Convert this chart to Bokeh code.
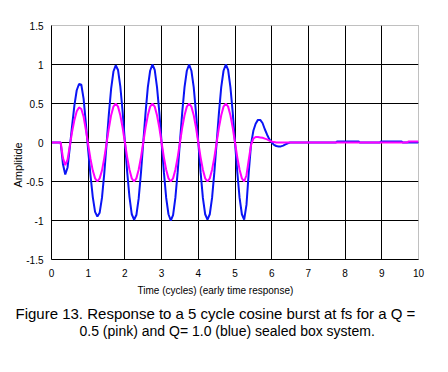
from bokeh.plotting import figure
from bokeh.models import Range1d, FixedTicker, Title
from bokeh.embed import file_html
from bokeh.resources import INLINE

# time samples (cycles) for the burst part
t_burst = [
    0.0, 0.0625, 0.125, 0.1875, 0.25, 0.3125, 0.375, 0.4375, 0.5, 0.5625, 0.625, 0.6875, 0.75, 0.8125, 0.875, 0.9375,
    1.0, 1.0625, 1.125, 1.1875, 1.25, 1.3125, 1.375, 1.4375, 1.5, 1.5625, 1.625, 1.6875, 1.75, 1.8125, 1.875, 1.9375,
    2.0, 2.0625, 2.125, 2.1875, 2.25, 2.3125, 2.375, 2.4375, 2.5, 2.5625, 2.625, 2.6875, 2.75, 2.8125, 2.875, 2.9375,
    3.0, 3.0625, 3.125, 3.1875, 3.25, 3.3125, 3.375, 3.4375, 3.5, 3.5625, 3.625, 3.6875, 3.75, 3.8125, 3.875, 3.9375,
    4.0, 4.0625, 4.125, 4.1875, 4.25, 4.3125, 4.375, 4.4375, 4.5, 4.5625, 4.625, 4.6875, 4.75, 4.8125, 4.875, 4.9375,
    5.0, 5.0625, 5.125, 5.1875, 5.25, 5.3125, 5.375, 5.4375, 5.5, 5.5625, 5.625, 5.6875, 5.75, 5.8125, 5.875, 5.9375,
    6.0, 6.0625, 6.125, 6.1875, 6.25, 6.3125, 6.375, 6.4375, 6.5,
]

# Q = 1.0 (blue)
blue_burst = [
    0, 0, 0, 0, 0, -0.28, -0.41, -0.32, -0.06, 0.22, 0.48, 0.67, 0.75, 0.74, 0.56, 0.24,
    -0.1, -0.42, -0.70, -0.89, -0.95, -0.90, -0.71, -0.40, -0.02, 0.36, 0.69, 0.91, 0.99, 0.93, 0.72, 0.40,
    0.01, -0.38, -0.70, -0.92, -0.99, -0.93, -0.72, -0.39, 0.0, 0.38, 0.71, 0.92, 1.0, 0.93, 0.71, 0.39,
    0.0, -0.38, -0.71, -0.92, -1.0, -0.93, -0.71, -0.38, 0.01, 0.39, 0.71, 0.92, 1.0, 0.92, 0.71, 0.38,
    0.0, -0.38, -0.71, -0.92, -0.99, -0.92, -0.71, -0.38, 0.0, 0.38, 0.71, 0.92, 1.0, 0.93, 0.71, 0.39,
    0.0, -0.38, -0.71, -0.92, -0.99, -0.80, -0.38, -0.02, 0.15, 0.24, 0.29, 0.29, 0.25, 0.17, 0.10, 0.04,
    0.0, -0.03, -0.045, -0.05, -0.05, -0.04, -0.025, -0.01, 0.0,
]
blue_tail_t = [7.75, 7.78, 8.37, 8.4, 8.95, 8.97, 9.54, 9.57, 10.0]
blue_tail = [0.0, 0.012, 0.012, 0.0, 0.0, 0.012, 0.012, 0.0, 0.0]

# Q = 0.5 (pink)
pink_burst = [
    0, 0, 0, 0, 0, -0.20, -0.29, -0.22, -0.04, 0.14, 0.29, 0.40, 0.45, 0.43, 0.33, 0.16,
    -0.03, -0.21, -0.36, -0.46, -0.50, -0.46, -0.36, -0.20, -0.01, 0.18, 0.35, 0.46, 0.50, 0.46, 0.35, 0.19,
    0.0, -0.19, -0.35, -0.46, -0.50, -0.46, -0.35, -0.19, 0.0, 0.19, 0.35, 0.46, 0.50, 0.46, 0.35, 0.19,
    0.0, -0.19, -0.35, -0.46, -0.50, -0.46, -0.35, -0.19, 0.0, 0.19, 0.35, 0.46, 0.50, 0.46, 0.35, 0.19,
    0.0, -0.19, -0.35, -0.46, -0.50, -0.46, -0.35, -0.19, 0.0, 0.19, 0.35, 0.46, 0.50, 0.46, 0.35, 0.19,
    0.0, -0.19, -0.35, -0.46, -0.50, -0.42, -0.22, -0.03, 0.05, 0.07, 0.07, 0.065, 0.06, 0.05, 0.04, 0.025,
    0.012, 0.005, 0.0, 0.0, 0.0, 0.0, 0.0, 0.0, 0.0,
]
pink_tail_t = [9.7, 9.72, 10.0]
pink_tail = [0.0, 0.012, 0.012]

x_ticks = [0, 1, 2, 3, 4, 5, 6, 7, 8, 9, 10]
y_ticks = [-1.5, -1, -0.5, 0, 0.5, 1, 1.5]
y_tick_labels = ["-1.5", "-1", "-0.5", "0", "0.5", "1", "1.5"]
x_grid = [1, 2, 3, 4, 5, 6, 7, 8, 9]
y_grid = [-1, -0.5, 0, 0.5, 1]

y_label = "Amplitide"
x_label = "Time (cycles)  (early time response)"
caption = ["Figure 13. Response to a 5 cycle cosine burst at fs for a Q =",
           "0.5 (pink) and Q= 1.0 (blue) sealed box system."]

blue_t = t_burst + blue_tail_t
blue_v = blue_burst + blue_tail
pink_t = t_burst + [7.0] + pink_tail_t
pink_v = pink_burst + [0.0] + pink_tail

FONT = "Liberation Sans"

p = figure(width=440, height=364, output_backend="svg", toolbar_location=None,
           x_range=Range1d(0, 10), y_range=Range1d(-1.5, 1.5),
           min_border_left=51, min_border_right=22, min_border_top=25, min_border_bottom=105)
p.background_fill_color = "white"
p.border_fill_color = "white"
p.outline_line_color = "#808080"
p.outline_line_dash = "1 1"
p.outline_line_width = 1

p.xaxis.ticker = FixedTicker(ticks=x_ticks)
p.yaxis.ticker = FixedTicker(ticks=y_ticks)
p.xgrid.ticker = FixedTicker(ticks=x_grid)
p.ygrid.ticker = FixedTicker(ticks=y_grid)
for g in (p.xgrid, p.ygrid):
    g.grid_line_color = "black"
    g.grid_line_width = 1
    g.grid_line_alpha = 1.0

for ax in (p.xaxis, p.yaxis):
    ax.axis_line_color = "black"
    ax.axis_line_width = 1
    ax.major_tick_in = 0
    ax.major_tick_out = 0
    ax.minor_tick_in = 0
    ax.minor_tick_out = 0
    ax.major_label_text_font = FONT
    ax.major_label_text_font_size = "10px"
    ax.major_label_text_color = "black"
p.xaxis.major_label_standoff = 9
p.yaxis.major_label_standoff = 8
p.yaxis.major_label_overrides = dict(zip(y_ticks, y_tick_labels))

p.add_layout(Title(text=y_label, align="left", offset=72, standoff=0,
                   text_font=FONT, text_font_size="11px", text_font_style="normal",
                   text_color="black"), "left")

# texts below the plot, in order from the axis outward
p.add_layout(Title(text=x_label, align="left", offset=86, standoff=6,
                   text_font=FONT, text_font_size="10px", text_font_style="normal",
                   text_color="black"), "below")
p.add_layout(Title(text=caption[0], align="left", offset=-36, standoff=8,
                   text_font=FONT, text_font_size="15px", text_font_style="normal",
                   text_color="black"), "below")
p.add_layout(Title(text=caption[1], align="left", offset=28, standoff=-9,
                   text_font=FONT, text_font_size="14px", text_font_style="normal",
                   text_color="black"), "below")

p.line(blue_t, blue_v, line_color="#0a14f5", line_width=2)
p.line(pink_t, pink_v, line_color="#ff00ff", line_width=2)

open("out.html", "w").write(file_html(p, INLINE))
